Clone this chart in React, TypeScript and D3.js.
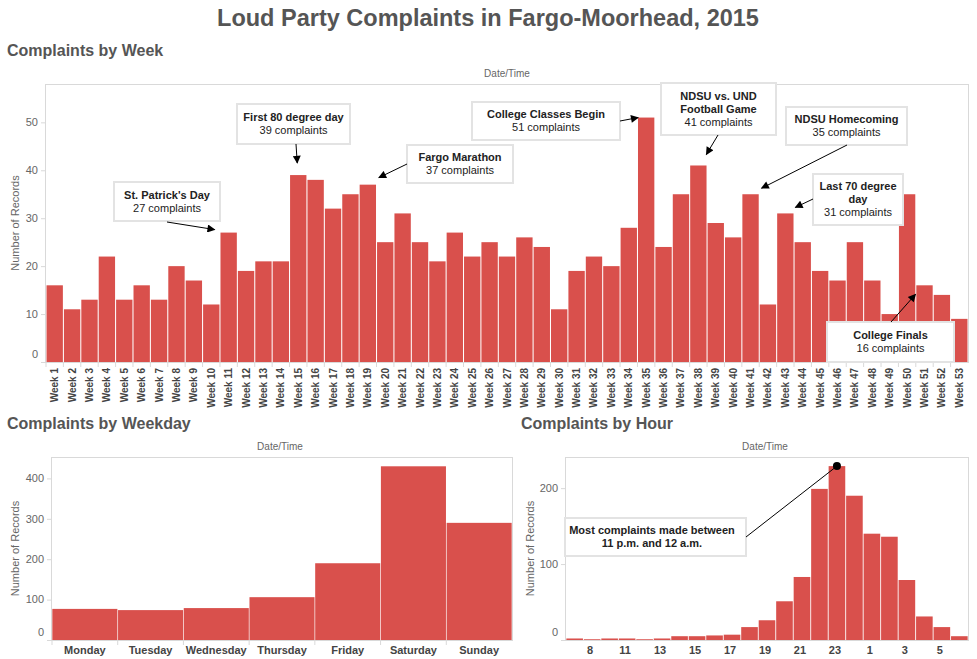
import React from "react";
import * as d3 from "d3";

const weeks: string[] = Array.from({ length: 53 }, (_, i) => `Week ${i + 1}`);
const weekValues: number[] = [
  16, 11, 13, 22, 13, 16, 13, 20, 17, 12,
  27, 19, 21, 21, 39, 38, 32, 35, 37, 25,
  31, 25, 21, 27, 22, 25, 22, 26, 24, 11,
  19, 22, 20, 28, 51, 24, 35, 41, 29, 26,
  35, 12, 31, 25, 19, 17, 25, 17, 10, 35,
  16, 14, 9,
];
const weekTicks: number[] = [0, 10, 20, 30, 40, 50];

const weekdays: string[] = ["Monday", "Tuesday", "Wednesday", "Thursday", "Friday", "Saturday", "Sunday"];
const weekdayValues: number[] = [77, 74, 79, 106, 190, 430, 290];
const weekdayTicks: number[] = [0, 100, 200, 300, 400];

const hours: string[] = ["7", "8", "10", "11", "12", "13", "14", "15", "16", "17", "18", "19", "20", "21", "22", "23", "0", "1", "2", "3", "4", "5", "6"];
const hourValues: number[] = [2, 1, 2, 2, 1, 2, 5, 5, 6, 7, 17, 26, 51, 83, 199, 229, 190, 140, 136, 79, 31, 17, 5];
const hourLabels: string[] = ["8", "11", "13", "15", "17", "19", "21", "23", "1", "3", "5"];
const hourTicks: number[] = [0, 100, 200];

type Ann = {
  week: string;
  lines: { t: string; bold: boolean }[];
  box: [number, number, number, number];
  from: [number, number];
  to: [number, number];
};

const annotations: Ann[] = [
  { week: "Week 11", lines: [{ t: "St. Patrick's Day", bold: true }, { t: "27 complaints", bold: false }], box: [114, 182, 106, 39], from: [167, 222], to: [-14, -3] },
  { week: "Week 15", lines: [{ t: "First 80 degree day", bold: true }, { t: "39 complaints", bold: false }], box: [237, 104, 113, 40], from: [296, 144], to: [-1, -12] },
  { week: "Week 19", lines: [{ t: "Fargo Marathon", bold: true }, { t: "37 complaints", bold: false }], box: [407, 145, 106, 38], from: [407, 164], to: [11, -7] },
  { week: "Week 35", lines: [{ t: "College Classes Begin", bold: true }, { t: "51 complaints", bold: false }], box: [472, 102, 148, 38], from: [620, 121], to: [-8, 0] },
  { week: "Week 38", lines: [{ t: "NDSU vs. UND", bold: true }, { t: "Football Game", bold: true }, { t: "41 complaints", bold: false }], box: [661, 83, 115, 52], from: [718, 135], to: [8, -11] },
  { week: "Week 41", lines: [{ t: "NDSU Homecoming", bold: true }, { t: "35 complaints", bold: false }], box: [786, 107, 121, 38], from: [847, 145], to: [11, -6] },
  { week: "Week 43", lines: [{ t: "Last 70 degree", bold: true }, { t: "day", bold: true }, { t: "31 complaints", bold: false }], box: [813, 174, 90, 51], from: [813, 199], to: [10, -6] },
  { week: "Week 51", lines: [{ t: "College Finals", bold: true }, { t: "16 complaints", bold: false }], box: [827, 322, 127, 40], from: [891, 322], to: [-9, 9] },
];

const RED = "#d9504c";
const FONT = "'Liberation Sans', Arial, Helvetica, sans-serif";
const GRID = "#d9d9d9";

function Frame({ x0, x1, y0, y1 }: { x0: number; x1: number; y0: number; y1: number }) {
  return <rect x={x0 + 0.5} y={y0 + 0.5} width={x1 - x0} height={y1 - y0} fill="none" stroke={GRID} strokeWidth={1} />;
}

function YAxis({ y, ticks, x0, title, titleX }: { y: d3.ScaleLinear<number, number>; ticks: number[]; x0: number; title: string; titleX: number }) {
  const [b, t] = y.range();
  return (
    <g>
      {ticks.map((v) => (
        <g key={v}>
          <line x1={x0 - 4} x2={x0} y1={y(v) + 0.5} y2={y(v) + 0.5} stroke={GRID} />
          <text x={x0 - 7} y={v === 0 ? y(v) - 8 : y(v)} dy="0.35em" textAnchor="end" fontSize={11} fill="#666" fontFamily={FONT}>{v}</text>
        </g>
      ))}
      <text transform={`translate(${titleX},${(b + t) / 2}) rotate(-90)`} textAnchor="middle" fontSize={11} fill="#666" fontFamily={FONT}>{title}</text>
    </g>
  );
}

export default function App() {
  // Week chart
  const wx = d3.scaleBand<string>().domain(weeks).range([46, 968]).paddingInner(0.06).paddingOuter(0.03);
  const wy = d3.scaleLinear().domain([0, 58]).range([362, 84]);
  // Weekday chart
  const dx = d3.scaleBand<string>().domain(weekdays).range([52, 512]).paddingInner(0.01).paddingOuter(0.005);
  const dy = d3.scaleLinear().domain([0, 453]).range([640, 457]);
  // Hour chart
  const hx = d3.scaleBand<string>().domain(hours).range([566, 968]).paddingInner(0.05).paddingOuter(0.02);
  const hy = d3.scaleLinear().domain([0, 241]).range([640, 457]);

  const wStep = wx.step();
  const dStep = dx.step();
  const peakIdx = hourValues.indexOf(d3.max(hourValues) as number);
  const peakX = (hx(hours[peakIdx]) as number) + hx.bandwidth() / 2;
  const peakY = hy(hourValues[peakIdx]);

  return (
    <div style={{ position: "absolute", left: 0, top: 0 }}>
      <svg width={977} height={659} style={{ display: "block" }} fontFamily={FONT}>
        <defs>
          <marker id="arr" viewBox="0 0 10 10" refX={9} refY={5} markerWidth={10} markerHeight={8} markerUnits="userSpaceOnUse" orient="auto">
            <path d="M0,0 L10,5 L0,10 z" fill="#000" />
          </marker>
        </defs>
        <rect width={977} height={659} fill="#fff" />
        <text x={488} y={26} textAnchor="middle" fontSize={23.5} fontWeight="bold" fill="#555">Loud Party Complaints in Fargo-Moorhead, 2015</text>

        {/* ---- Week chart ---- */}
        <text x={7} y={56} fontSize={16} fontWeight="bold" fill="#555">Complaints by Week</text>
        <text x={507} y={77} textAnchor="middle" fontSize={10} fill="#666">Date/Time</text>
        <Frame x0={45} x1={968} y0={84} y1={362} />
        {weeks.map((w, i) => (
          <rect key={w} x={wx(w)} y={wy(weekValues[i])} width={wx.bandwidth()} height={wy(0) - wy(weekValues[i])} fill={RED} />
        ))}
        <line x1={45} x2={968} y1={362.5} y2={362.5} stroke={GRID} />
        {weeks.map((w) => (
          <line key={"t" + w} x1={(wx(w) as number) - (wStep - wx.bandwidth()) / 2} x2={(wx(w) as number) - (wStep - wx.bandwidth()) / 2} y1={362} y2={367} stroke={GRID} />
        ))}
        {weeks.map((w) => (
          <text key={"l" + w} transform={`translate(${(wx(w) as number) + wx.bandwidth() / 2},368) rotate(-90)`} textAnchor="end" dy="0.35em" fontSize={10} fontWeight="bold" fill="#444">{w}</text>
        ))}
        <YAxis y={wy} ticks={weekTicks} x0={45} title="Number of Records" titleX={19} />

        {annotations.map((a) => {
          const i = weeks.indexOf(a.week);
          const tx = (wx(a.week) as number) + wx.bandwidth() / 2 + a.to[0];
          const ty = wy(weekValues[i]) + a.to[1];
          const [bx, by, bw, bh] = a.box;
          const n = a.lines.length;
          const cy = by + bh / 2;
          return (
            <g key={a.week}>
              <rect x={bx} y={by} width={bw} height={bh} fill="#fff" stroke="#e3e3e3" strokeWidth={2} />
              {a.lines.map((l, k) => (
                <text key={k} x={bx + bw / 2} y={cy + (k - (n - 1) / 2) * 13} dy="0.35em" textAnchor="middle" fontSize={11} fontWeight={l.bold ? "bold" : "normal"} fill="#222">{l.t}</text>
              ))}
              <line x1={a.from[0]} y1={a.from[1]} x2={tx} y2={ty} stroke="#000" strokeWidth={1} markerEnd="url(#arr)" />
            </g>
          );
        })}

        {/* ---- Weekday chart ---- */}
        <text x={7} y={429} fontSize={16} fontWeight="bold" fill="#555">Complaints by Weekday</text>
        <text x={280} y={450} textAnchor="middle" fontSize={10} fill="#666">Date/Time</text>
        <Frame x0={51} x1={512} y0={457} y1={640} />
        {weekdays.map((d, i) => (
          <rect key={d} x={dx(d)} y={dy(weekdayValues[i])} width={dx.bandwidth()} height={dy(0) - dy(weekdayValues[i])} fill={RED} />
        ))}
        <line x1={51} x2={512} y1={640.5} y2={640.5} stroke={GRID} />
        {weekdays.map((d) => (
          <line key={"t" + d} x1={(dx(d) as number) - (dStep - dx.bandwidth()) / 2} x2={(dx(d) as number) - (dStep - dx.bandwidth()) / 2} y1={640} y2={645} stroke={GRID} />
        ))}
        {weekdays.map((d) => (
          <text key={"l" + d} x={(dx(d) as number) + dx.bandwidth() / 2} y={654} textAnchor="middle" fontSize={11} fontWeight="bold" fill="#444">{d}</text>
        ))}
        <YAxis y={dy} ticks={weekdayTicks} x0={51} title="Number of Records" titleX={19} />

        {/* ---- Hour chart ---- */}
        <text x={521} y={429} fontSize={16} fontWeight="bold" fill="#555">Complaints by Hour</text>
        <text x={765} y={450} textAnchor="middle" fontSize={10} fill="#666">Date/Time</text>
        <Frame x0={565} x1={968} y0={457} y1={640} />
        {hours.map((h, i) => (
          <rect key={h} x={hx(h)} y={hy(hourValues[i])} width={hx.bandwidth()} height={hy(0) - hy(hourValues[i])} fill={RED} />
        ))}
        <line x1={565} x2={968} y1={640.5} y2={640.5} stroke={GRID} />
        {hourLabels.map((h) => (
          <text key={"l" + h} x={(hx(h) as number) + hx.bandwidth() / 2 - 2} y={654} textAnchor="middle" fontSize={11} fontWeight="bold" fill="#444">{h}</text>
        ))}
        <YAxis y={hy} ticks={hourTicks} x0={565} title="Number of Records" titleX={534} />
        <rect x={565} y={518} width={181} height={38} fill="#fff" stroke="#e3e3e3" strokeWidth={2} />
        <text x={652} y={530} dy="0.35em" textAnchor="middle" fontSize={11} fontWeight="bold" fill="#222">Most complaints made between</text>
        <text x={652} y={543} dy="0.35em" textAnchor="middle" fontSize={11} fontWeight="bold" fill="#222">11 p.m. and 12 a.m.</text>
        <line x1={746} y1={537} x2={peakX} y2={peakY} stroke="#000" strokeWidth={1} />
        <circle cx={peakX} cy={peakY} r={4} fill="#000" />
      </svg>
    </div>
  );
}
